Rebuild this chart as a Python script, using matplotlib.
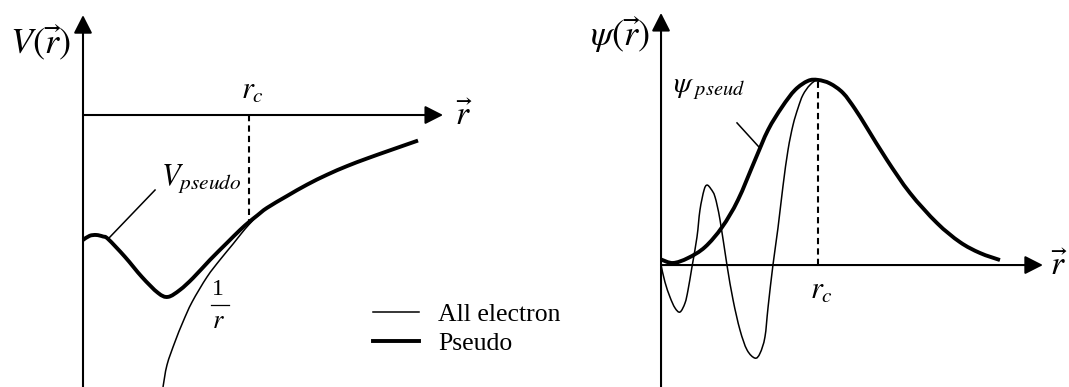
import matplotlib
matplotlib.use("Agg")
import matplotlib.pyplot as plt
import numpy as np
from matplotlib.path import Path
from matplotlib.patches import PathPatch
from matplotlib.lines import Line2D

plt.rcParams["font.family"] = ["Liberation Serif", "DejaVu Serif"]
plt.rcParams["mathtext.fontset"] = "stix"

# ---- Potential panel: r in units of r_c, V on the same scale ----
r_v_pseudo = [0.0, 0.04, 0.08, 0.12, 0.151, 0.253, 0.355, 0.452, 0.512,
              0.584, 0.663, 0.765, 0.867, 0.946, 1.0, 1.05, 1.108, 1.229,
              1.349, 1.470, 1.590, 1.711, 1.849, 2.018]
v_pseudo = [-0.753, -0.728, -0.723, -0.732, -0.747, -0.855, -0.976, -1.072,
            -1.096, -1.054, -0.982, -0.873, -0.771, -0.693, -0.645, -0.605,
            -0.560, -0.488, -0.420, -0.360, -0.308, -0.262, -0.213, -0.154]

r_v_all = [0.482, 0.506, 0.554, 0.602, 0.657, 0.747, 0.825, 0.904, 0.954,
           1.0, 1.05, 1.108, 1.229, 1.349, 1.470, 1.590, 1.711, 1.849, 2.018]
v_all = [-1.639, -1.506, -1.367, -1.247, -1.127, -0.976, -0.873, -0.777,
         -0.714, -0.660, -0.610, -0.560, -0.488, -0.420, -0.360, -0.308,
         -0.262, -0.213, -0.154]

# ---- Wavefunction panel: r in units of r_c, psi normalised to its peak ----
r_psi_pseudo = [0.0, 0.076, 0.172, 0.280, 0.389, 0.490, 0.599, 0.682, 0.771,
                0.854, 0.936, 1.0, 1.076, 1.159, 1.236, 1.312, 1.439, 1.586,
                1.758, 1.904, 2.032, 2.159]
psi_pseudo = [0.030, 0.011, 0.038, 0.097, 0.205, 0.351, 0.568, 0.730, 0.854,
              0.946, 0.995, 1.0, 0.981, 0.930, 0.843, 0.741, 0.568, 0.389,
              0.227, 0.124, 0.065, 0.027]

r_psi_all = [0.0, 0.025, 0.057, 0.089, 0.121, 0.153, 0.172, 0.197, 0.229,
             0.248, 0.274, 0.293, 0.318, 0.344, 0.376, 0.420, 0.459, 0.503,
             0.548, 0.599, 0.631, 0.662, 0.682, 0.713, 0.745, 0.777, 0.809,
             0.841, 0.873, 0.904, 0.949, 1.0, 1.076, 1.159, 1.236, 1.312,
             1.439, 1.586, 1.758, 1.904, 2.032, 2.159]
psi_all = [0.0, -0.092, -0.173, -0.232, -0.254, -0.205, -0.135, -0.011, 0.151,
           0.297, 0.405, 0.432, 0.411, 0.368, 0.243, 0.0, -0.189, -0.351,
           -0.459, -0.503, -0.476, -0.389, -0.227, 0.0, 0.200, 0.427, 0.622,
           0.757, 0.849, 0.919, 0.973, 1.0, 0.981, 0.930, 0.843, 0.741, 0.568,
           0.389, 0.227, 0.124, 0.065, 0.027]

legend_labels = ["All electron", "Pseudo"]

W, H = 1069, 387
fig = plt.figure(figsize=(W / 100, H / 100), dpi=100)

axL = fig.add_axes([0, 0, 540 / W, 1])
axL.set_xlim(-0.5, 2.753)
axL.set_ylim(-1.639, 0.693)
axR = fig.add_axes([540 / W, 0, 529 / W, 1])
axR.set_xlim(-0.771, 2.599)
axR.set_ylim(-0.659, 1.432)
for ax in (axL, axR):
    ax.set_axis_off()

THIN, THICK = 1.1, 2.8


def smooth_curve(ax, x, y, lw):
    """Draw a smooth Bezier curve passing through every (x, y) sample."""
    pts = np.column_stack([x, y]).astype(float)
    n = len(pts)
    verts, codes = [pts[0]], [Path.MOVETO]
    for i in range(n - 1):
        p0 = pts[i - 1] if i > 0 else pts[i]
        p1, p2 = pts[i], pts[i + 1]
        p3 = pts[i + 2] if i + 2 < n else pts[i + 1]
        verts += [p1 + (p2 - p0) / 6, p2 - (p3 - p1) / 6, p2]
        codes += [Path.CURVE4] * 3
    ax.add_patch(PathPatch(Path(verts, codes), fill=False, lw=lw,
                           edgecolor="black", capstyle="butt",
                           joinstyle="round"))


def axis_arrow(ax, x0, y0, x1, y1):
    ax.annotate("", xy=(x1, y1), xytext=(x0, y0),
                arrowprops=dict(arrowstyle="-|>,head_length=0.55,head_width=0.28",
                                lw=1.5, color="black", shrinkA=0, shrinkB=0,
                                mutation_scale=20),
                annotation_clip=False)


DASH = (0, (3, 2))

# Left: potential
axis_arrow(axL, 0, -1.7, 0, 0.602)
axis_arrow(axL, 0, 0, 2.169, 0)
axL.plot([1.0, 1.0], [0, -0.645], color="black", lw=1.5, ls=DASH)
smooth_curve(axL, r_v_all, v_all, THIN)
smooth_curve(axL, r_v_pseudo, v_pseudo, THICK)
axL.plot([0.151, 0.434], [-0.747, -0.452], color="black", lw=1.1)

axL.text(-0.078, 0.434, r"$V\left(\vec{r}\right)$", fontsize=26,
         ha="right", va="center")
axL.text(2.24, -0.01, r"$\vec{r}$", fontsize=24, ha="left", va="center")
axL.text(1.02, 0.14, r"$r_c$", fontsize=22, ha="center", va="center")
axL.text(0.47, -0.385, r"$V_{pseudo}$", fontsize=22, ha="left", va="center")
# the 1/r fraction next to the all-electron branch
axL.text(0.813, -1.054, "1", fontsize=17, ha="center", va="center")
axL.plot([0.771, 0.880], [-1.145, -1.145], color="black", lw=0.9)
axL.text(0.813, -1.25, r"$r$", fontsize=19, ha="center", va="center")

handles = [Line2D([], [], color="black", lw=THIN),
           Line2D([], [], color="black", lw=THICK)]
axL.legend(handles=handles, labels=legend_labels, loc="center left",
           bbox_to_anchor=(360 / 540, 1 - 329 / 387),
           frameon=False, fontsize=18.5, handlelength=1.8,
           handletextpad=0.75, labelspacing=0.2, borderpad=0)

# Right: wavefunction
axis_arrow(axR, 0, -0.7, 0, 1.362)
axis_arrow(axR, 0, 0, 2.433, 0)
axR.plot([1.0, 1.0], [0, 1.0], color="black", lw=1.5, ls=DASH)
smooth_curve(axR, r_psi_all, psi_all, THIN)
smooth_curve(axR, r_psi_pseudo, psi_pseudo, THICK)
axR.plot([0.484, 0.630], [0.768, 0.632], color="black", lw=1.1)

axR.text(-0.07, 1.238, r"$\psi\left(\vec{r}\right)$", fontsize=26,
         ha="right", va="center")
axR.text(2.478, -0.01, r"$\vec{r}$", fontsize=24, ha="left", va="center")
axR.text(1.025, -0.14, r"$r_c$", fontsize=22, ha="center", va="center")
axR.text(0.076, 0.95, r"$\psi_{\ pseud}$", fontsize=21, ha="left",
         va="center")

fig.savefig("out.png", dpi=100)
